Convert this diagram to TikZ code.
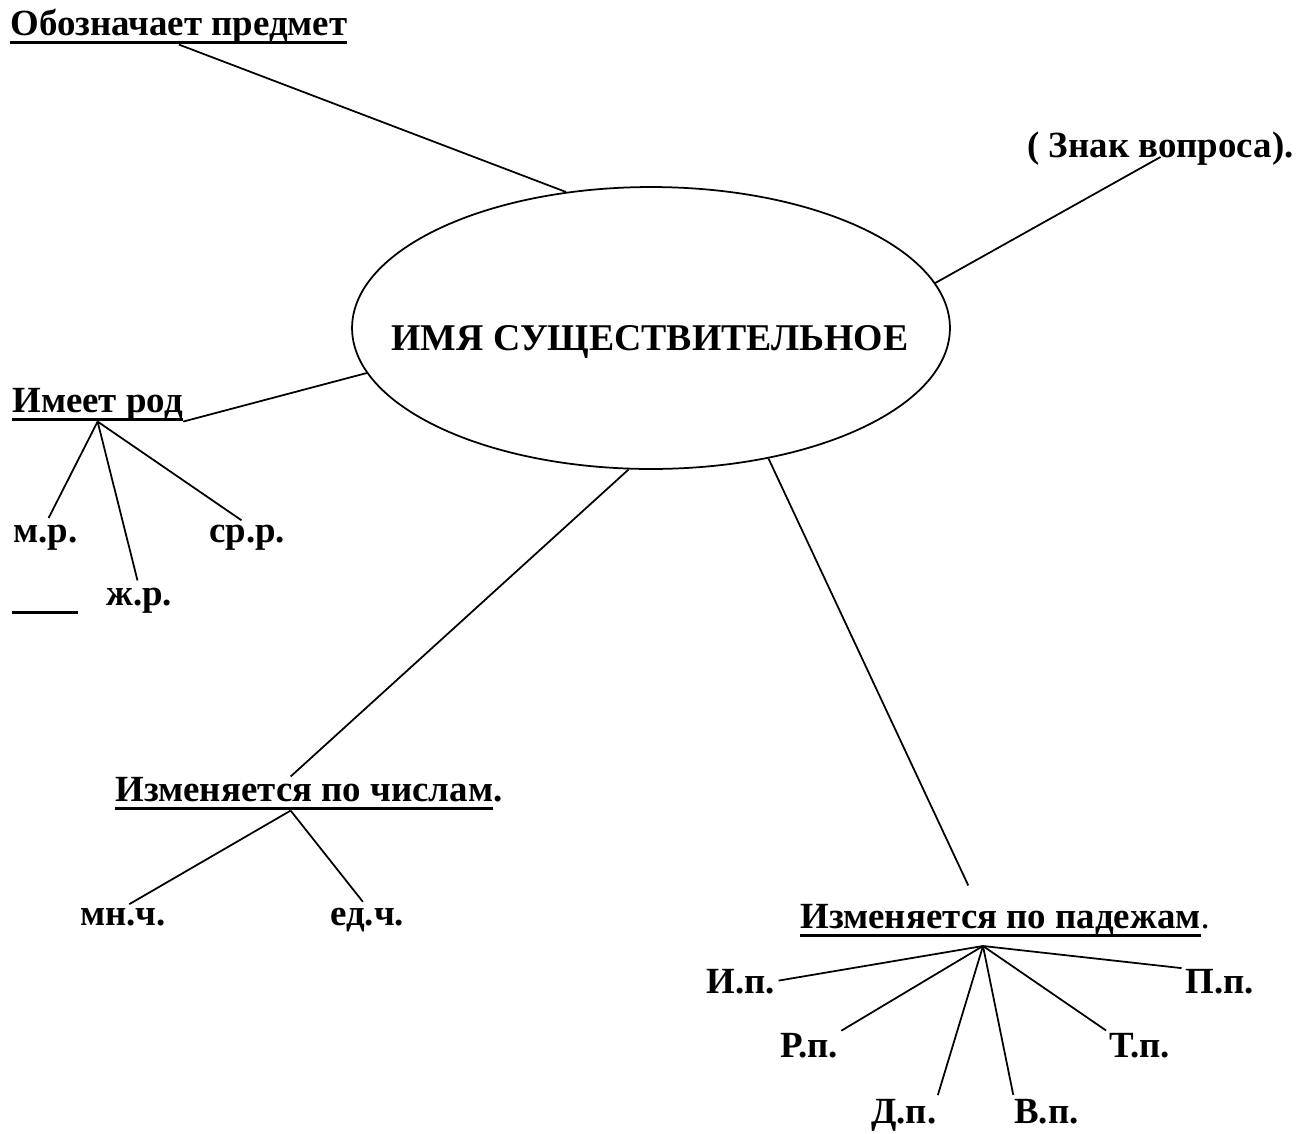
\documentclass[tikz,border=0pt]{standalone}
\usepackage{fontspec}
\setmainfont{Liberation Serif}
\usetikzlibrary{shapes.geometric,positioning}

% thick underline, as in the scheme
\newcommand{\thickul}[1]{\setbox0\hbox{#1}\rlap{\rule[-0.25em]{\wd0}{0.1em}}\box0}

\tikzset{
    lbl/.style={inner sep=0pt, anchor=base west, font=\bfseries\fontsize{21}{25}\selectfont},
    link/.style={line width=1pt},
    twig/.style={link, shorten >=4pt},
}

\begin{document}
\begin{tikzpicture}[x=0.02cm, y=-0.02cm]
    \useasboundingbox (0,0) rectangle (1311,1133);

    % Centre: the noun
    \node[draw, ellipse, line width=1pt, inner sep=0pt,
          minimum width=11.96cm, minimum height=5.64cm] (noun) at (651,328) {};
    \node[lbl, anchor=base, font=\bfseries\fontsize{21.5}{26}\selectfont] (title) at (650,350) {ИМЯ СУЩЕСТВИТЕЛЬНОЕ};

    % Branches
    \node[lbl] (predmet) at (10,35) {\thickul{Обозначает предмет}};
    \node[lbl] (znak) at (1027,157) {( Знак вопроса).};
    \node[lbl] (rod) at (12,412) {\thickul{Имеет род}};
    \node[lbl] (chisla) at (115,801) {\thickul{Изменяется по числам}.};
    \node[lbl] (padezh) at (800,928) {\thickul{Изменяется по падежам}{\mdseries.}};

    % Gender
    \node[lbl] (mr) at (13,542) {м.р.};
    \node[lbl] (zhr) at (106,605) {ж.р.};
    \node[lbl] (srr) at (209,542) {ср.р.};
    \node[lbl] (blank) at (12,605) {\thickul{\hspace{1.32cm}}};

    % Number
    \node[lbl] (mnch) at (80,925) {мн.ч.};
    \node[lbl] (edch) at (330,925) {ед.ч.};

    % Cases
    \node[lbl] (ip) at (706,993) {И.п.};
    \node[lbl] (rp) at (780,1057) {Р.п.};
    \node[lbl] (dp) at (871,1123) {Д.п.};
    \node[lbl] (vp) at (1014,1123) {В.п.};
    \node[lbl] (tp) at (1109,1057) {Т.п.};
    \node[lbl] (pp) at (1185,993) {П.п.};
    \coordinate (padHub) at (983,946);

    % Connectors
    \draw[link] (predmet.south) -- (noun.122);
    \draw[link] (noun.9) -- (znak.base);
    \draw[link] (rod.south east) -- (noun.189);
    \draw[link] (noun.261) -- (chisla.137);
    \draw[link, shorten >=0.4cm] (noun.312) -- (padezh.149);

    \foreach \leaf in {mr.north,zhr.north,srr.north}
        \draw[twig] (rod.south) -- (\leaf);
    \foreach \leaf in {mnch.north,edch.north}
        \draw[twig] (chisla.223) -- (\leaf);
    \foreach \leaf in {ip.east,rp.north east,dp.north east,vp.north west,tp.north west,pp.north west}
        \draw[twig, shorten >=2pt] (padHub) -- (\leaf);
\end{tikzpicture}
\end{document}
